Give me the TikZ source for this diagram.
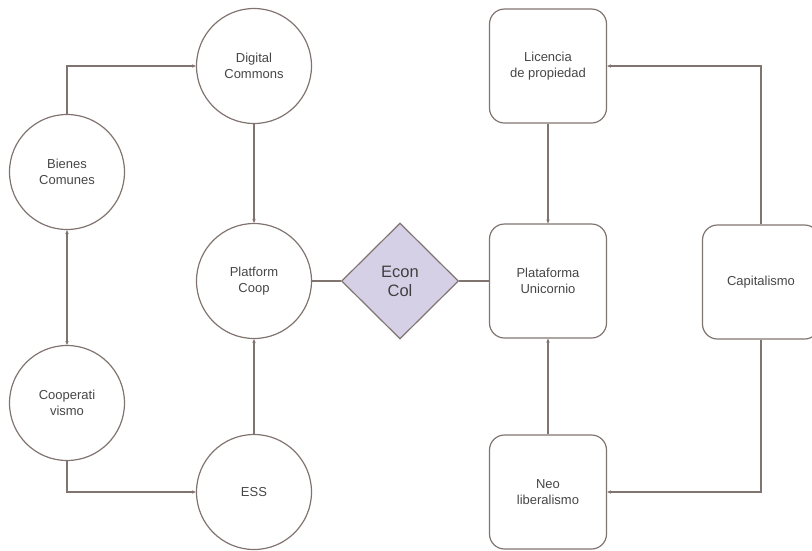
\documentclass[tikz,border=0pt]{standalone}
\usepackage{fontspec}
\setmainfont{Liberation Sans}
\usetikzlibrary{shapes.geometric,arrows.meta}
\definecolor{edge}{RGB}{128,116,112}
\definecolor{txt}{RGB}{70,70,70}
\definecolor{lav}{RGB}{214,208,230}
\tikzset{
  circ/.style={circle,draw=edge,line width=1.2pt,minimum size=115pt,inner sep=0pt,align=center,font=\fontsize{13}{16}\selectfont,text=txt},
  rbox/.style={rectangle,rounded corners=15pt,draw=edge,line width=1.2pt,minimum width=117pt,minimum height=114pt,inner sep=0pt,align=center,font=\fontsize{13}{16}\selectfont,text=txt},
  dia/.style={diamond,draw=edge,fill=lav,line width=1.2pt,minimum width=117pt,minimum height=116pt,inner sep=0pt,align=center,font=\fontsize{16.5}{19}\selectfont,text=black!75},
  conn/.style={draw=edge,line width=1.1pt},
  arr/.style={conn,-{Stealth[length=4pt,width=3.5pt]}},
  barr/.style={conn,{Stealth[length=4pt,width=3.5pt]}-{Stealth[length=4pt,width=3.5pt]}}
}
\begin{document}
\begin{tikzpicture}[x=1pt,y=-1pt]
\useasboundingbox (0,0) rectangle (812,550);
\node[circ] (dc) at (254,66) {Digital\\Commons};
\node[circ] (bc) at (67,172) {Bienes\\Comunes};
\node[circ] (pc) at (254,281) {Platform\\Coop};
\node[circ] (co) at (67,403) {Cooperati\\vismo};
\node[circ] (ess) at (254,492) {ESS};
\node[dia] (ec) at (400,281) {Econ\\Col};
\node[rbox] (lp) at (548,66) {Licencia\\de propiedad};
\node[rbox] (pu) at (548,281) {Plataforma\\Unicornio};
\node[rbox] (nl) at (548,492) {Neo\\liberalismo};
\node[rbox] (ca) at (761,282) {Capitalismo};
\draw[arr] (bc.north) |- (dc.west);
\draw[arr] (dc.south) -- (pc.north);
\draw[barr] (bc.south) -- (co.north);
\draw[arr] (co.south) |- (ess.west);
\draw[arr] (ess.north) -- (pc.south);
\draw[conn] (pc.east) -- (ec.west);
\draw[conn] (ec.east) -- (pu.west);
\draw[arr] (lp.south) -- (pu.north);
\draw[arr] (nl.north) -- (pu.south);
\draw[arr] (ca.north) |- (lp.east);
\draw[arr] (ca.south) |- (nl.east);
\end{tikzpicture}
\end{document}
